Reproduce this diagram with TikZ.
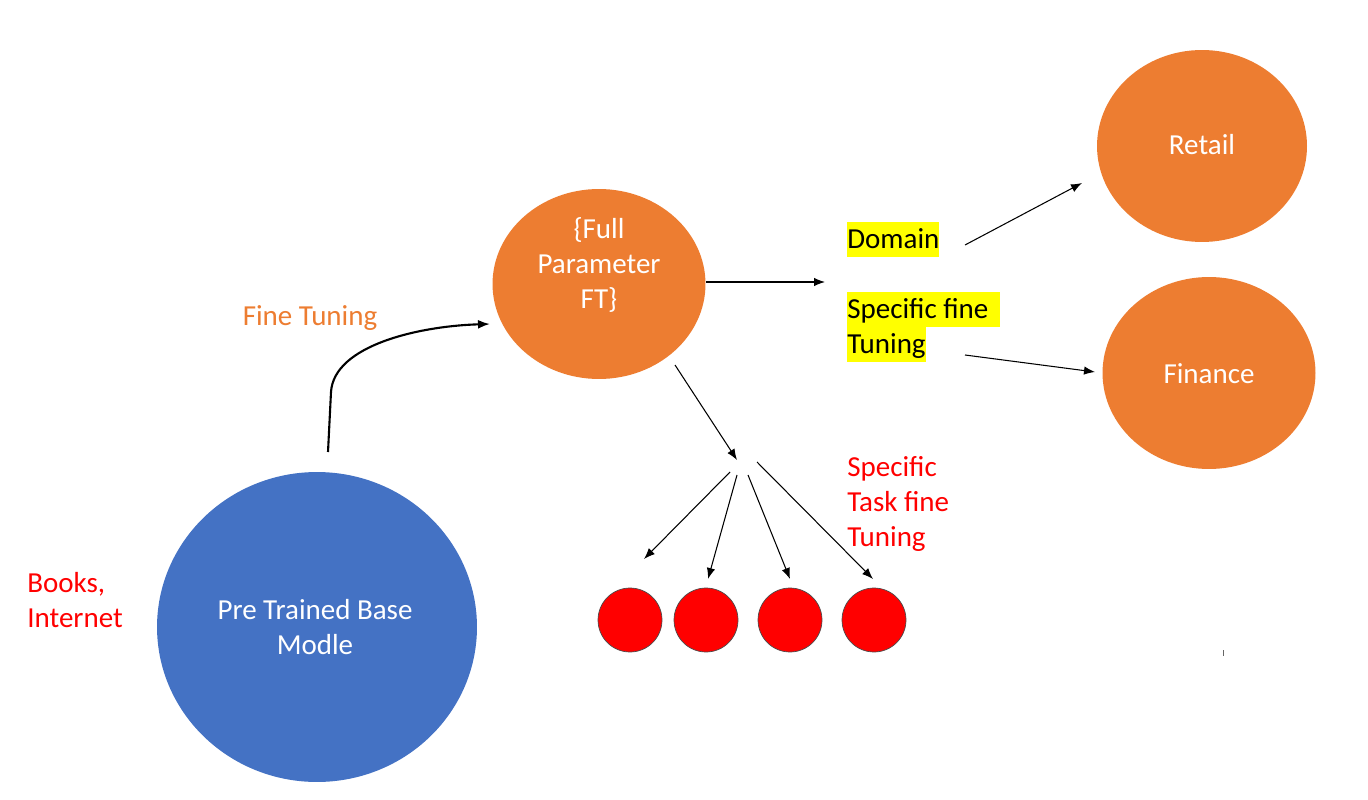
\documentclass[tikz,border=0pt]{standalone}
\usepackage{fontspec}
\setmainfont{Carlito}
\usetikzlibrary{shapes.geometric,arrows.meta}
\definecolor{ofill}{HTML}{ED7D31}
\definecolor{bfill}{HTML}{4472C4}
\definecolor{rfill}{HTML}{FF0000}
\definecolor{hl}{HTML}{FFFF00}
\begin{document}
\begin{tikzpicture}[x=0.02cm,y=-0.02cm,
  every node/.style={font=\fontsize{16.5pt}{19.9pt}\selectfont},
  blob/.style={ellipse, inner sep=0pt},
  obl/.style={blob, fill=ofill, minimum width=4.26cm, minimum height=3.8cm},
  dot/.style={circle, fill=rfill, draw=black!70, line width=0.4pt, minimum size=1.28cm, inner sep=0pt},
  wtxt/.style={text=white, align=center},
  rtxt/.style={text=rfill, align=left, anchor=north west, inner sep=0pt},
  hlbox/.style={fill=hl, inner xsep=0pt, inner ysep=0pt, text height=0.53cm, text depth=0.17cm, anchor=west},
  arr/.style={-{Latex[length=0.22cm,width=0.17cm]}, line width=0.6pt, black},
  thick arr/.style={-{Latex[length=0.24cm,width=0.18cm]}, line width=1.2pt, black}
]
\useasboundingbox (0,0) rectangle (1368,800);
\fill[white] (0,0) rectangle (1368,800);

% main circles
\node[blob, fill=bfill, minimum width=6.4cm, minimum height=6.2cm] (base) at (317,627) {};
\node[wtxt] (basetxt) at (315,627) {Pre Trained Base\\Modle};
\node[obl] (ft) at (599,284) {};
\node[wtxt] (fttxt) at (599,265) {\{Full\\Parameter\\FT\}};
\node[obl, minimum width=4.2cm, minimum height=3.84cm] (retail) at (1202,146) {};
\node[wtxt] (retailtxt) at (1202,145) {Retail};
\node[obl, minimum width=4.26cm, minimum height=3.84cm] (finance) at (1209,373) {};
\node[wtxt] (financetxt) at (1209,374) {Finance};

% red task circles
\node[dot] (t1) at (630,620) {};
\node[dot] (t2) at (706,620) {};
\node[dot] (t3) at (790,620) {};
\node[dot] (t4) at (874,620) {};

% labels
\node[text=ofill] (finetuning) at (310,318) {Fine Tuning};
\node[rtxt] (books) at (27,572) {Books,\\Internet};
\node[rtxt] (task) at (847,456) {Specific\\Task fine\\Tuning};
\node[hlbox] (domain) at (847,239.5) {Domain};
\node[hlbox] (spec) at (847,309.5) {Specific fine\rule{0.24cm}{0pt}};
\node[hlbox] (tuning) at (847,344.5) {Tuning};

% connector end points
\coordinate (cstart) at (328,452);
\coordinate (ftin) at (490,324);
\coordinate (ftout) at (706,282);
\coordinate (rightend) at (825,282);
\coordinate (domout) at (965,245);
\coordinate (retin) at (1082,183);
\coordinate (tunout) at (965,355);
\coordinate (finin) at (1095,372);
\coordinate (ftdown) at (675,365);
\coordinate (hub) at (737,460);
\coordinate (h1) at (730,472);
\coordinate (h2) at (737,475);
\coordinate (h3) at (748,475);
\coordinate (h4) at (757,462);
\coordinate (t1in) at (644,559);
\coordinate (t2in) at (708,579);
\coordinate (t3in) at (790,579);
\coordinate (t4in) at (873,579);

% connectors
\draw[thick arr] (cstart) -- (331,392) .. controls (334,345) and (420,326) .. (ftin);
\draw[arr] (ftout) -- (rightend);
\draw[arr] (domout) -- (retin);
\draw[arr] (tunout) -- (finin);
\draw[arr] (ftdown) -- (hub);
\draw[arr] (h1) -- (t1in);
\draw[arr] (h2) -- (t2in);
\draw[arr] (h3) -- (t3in);
\draw[arr] (h4) -- (t4in);

% stray tick
\draw[black!60, line width=0.5pt] (1223,650) -- (1223,656);
\end{tikzpicture}
\end{document}
